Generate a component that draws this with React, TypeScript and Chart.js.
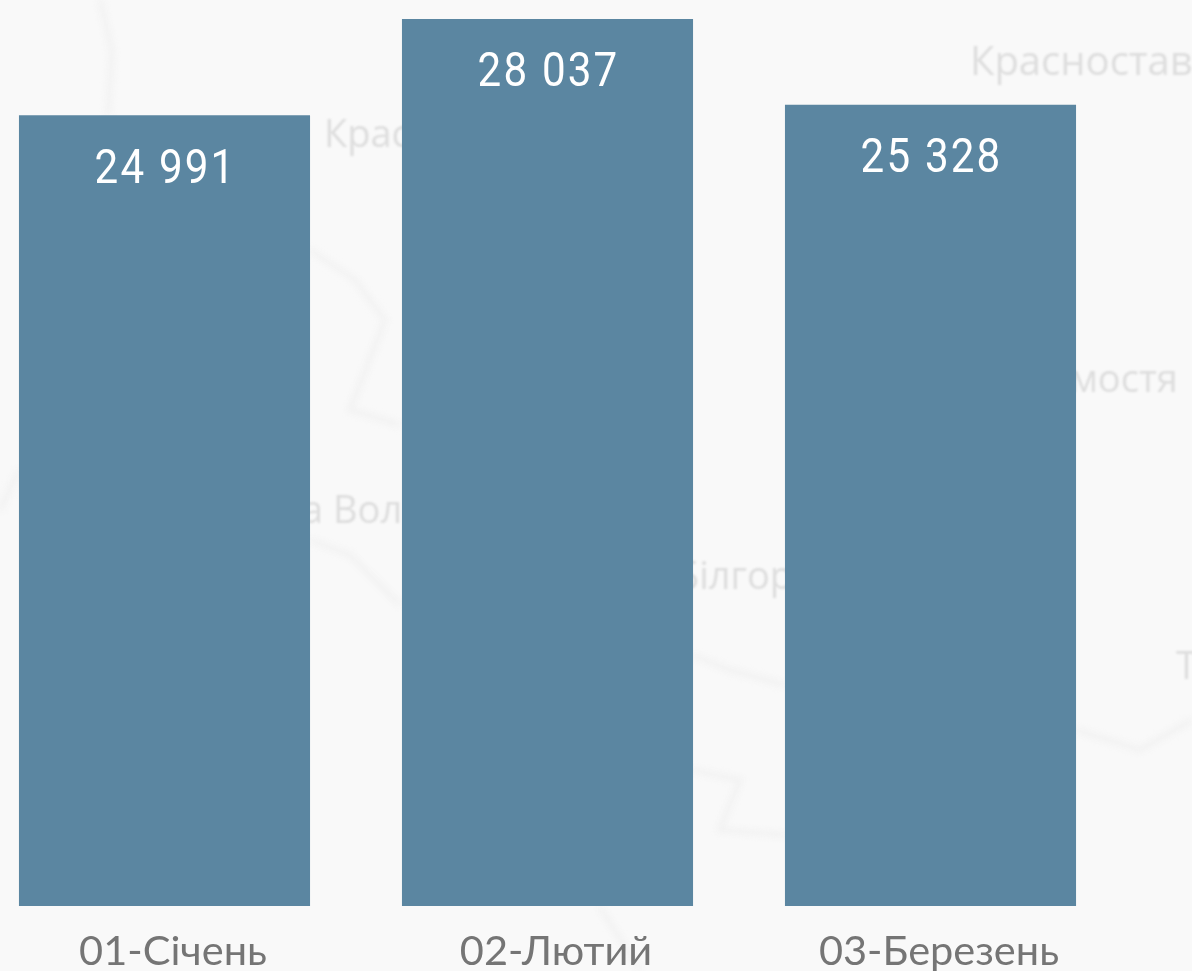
import React, { useEffect, useRef } from "react";
import { Chart, registerables } from "chart.js";

Chart.register(...registerables);

const categories = ["01-Січень", "02-Лютий", "03-Березень"];
const values = [24991, 28037, 25328];
const valueLabels = ["24 991", "28 037", "25 328"];

const bleedLeft = 27;

const backgroundTexts = [
  { t: "Красностав", x: 970, y: 64, s: 40 },
  { t: "Красностав", x: 324, y: 136, s: 38 },
  { t: "мостя", x: 1070, y: 381, s: 38 },
  { t: "а Волинь", x: 302, y: 512, s: 38 },
  { t: "Білгорай", x: 676, y: 578, s: 38 },
  { t: "Т", x: 1176, y: 668, s: 38 },
];

const backgroundRoads = [
  [[100, 0], [112, 50], [108, 115]],
  [[310, 250], [355, 280], [385, 320], [350, 410], [400, 425]],
  [[310, 540], [350, 555], [400, 605]],
  [[692, 655], [730, 670], [785, 685]],
  [[692, 770], [740, 780], [720, 830], [785, 835]],
  [[1076, 730], [1140, 750], [1192, 720]],
  [[600, 907], [640, 971]],
  [[0, 510], [19, 470]],
];

const backdrop = {
  id: "backdrop",
  beforeDraw(chart: any) {
    const { ctx, width, height } = chart;
    ctx.save();
    ctx.fillStyle = "#f9f9f9";
    ctx.fillRect(0, 0, width, height);
    ctx.translate(bleedLeft, 0);
    ctx.filter = "blur(3px)";
    ctx.strokeStyle = "#f1f1f1";
    ctx.lineWidth = 5;
    backgroundRoads.forEach((road) => {
      ctx.beginPath();
      road.forEach(([x, y], i) => (i ? ctx.lineTo(x, y) : ctx.moveTo(x, y)));
      ctx.stroke();
    });
    ctx.filter = "blur(1px)";
    ctx.fillStyle = "#dddddd";
    ctx.textBaseline = "middle";
    backgroundTexts.forEach((b) => {
      ctx.font = `${b.s}px "Open Sans"`;
      ctx.fillText(b.t, b.x, b.y);
    });
    ctx.restore();
  },
};

const barLabels = {
  id: "barLabels",
  afterDatasetsDraw(chart: any) {
    const { ctx } = chart;
    chart.getDatasetMeta(0).data.forEach((bar: any, i: number) => {
      ctx.save();
      ctx.fillStyle = "#ffffff";
      ctx.font = '49px "Roboto"';
      ctx.textAlign = "center";
      ctx.textBaseline = "middle";
      if ("letterSpacing" in ctx) ctx.letterSpacing = "2.5px";
      ctx.translate(bar.x + 1, bar.y + 55);
      ctx.scale(0.86, 1);
      ctx.fillText(valueLabels[i], 0, 0);
      ctx.restore();
    });
  },
};

export default function App() {
  const ref = useRef<HTMLCanvasElement>(null);
  useEffect(() => {
    const chart = new Chart(ref.current!, {
      type: "bar",
      data: {
        labels: categories,
        datasets: [
          {
            data: values,
            backgroundColor: "#5b86a1",
            barPercentage: 0.76,
            categoryPercentage: 1,
          },
        ],
      },
      options: {
        animation: false,
        responsive: false,
        layout: { padding: { left: 0, right: 70, top: 0, bottom: 0 } },
        plugins: { legend: { display: false }, tooltip: { enabled: false } },
        scales: {
          x: {
            grid: { display: false },
            border: { display: false },
            afterFit(scale: any) {
              scale.height = 65;
            },
            ticks: {
              color: "#757575",
              font: { family: '"Lato"', size: 41.5 },
              padding: 13,
              labelOffset: 8.5,
              maxRotation: 0,
              autoSkip: false,
            },
          },
          y: { display: false, min: 0, max: 28637 },
        },
      },
      plugins: [backdrop, barLabels],
    });
    return () => chart.destroy();
  }, []);
  return (
    <canvas
      ref={ref}
      width={1192 + bleedLeft}
      height={971}
      style={{ position: "fixed", left: -bleedLeft, top: 0, display: "block" }}
    />
  );
}
